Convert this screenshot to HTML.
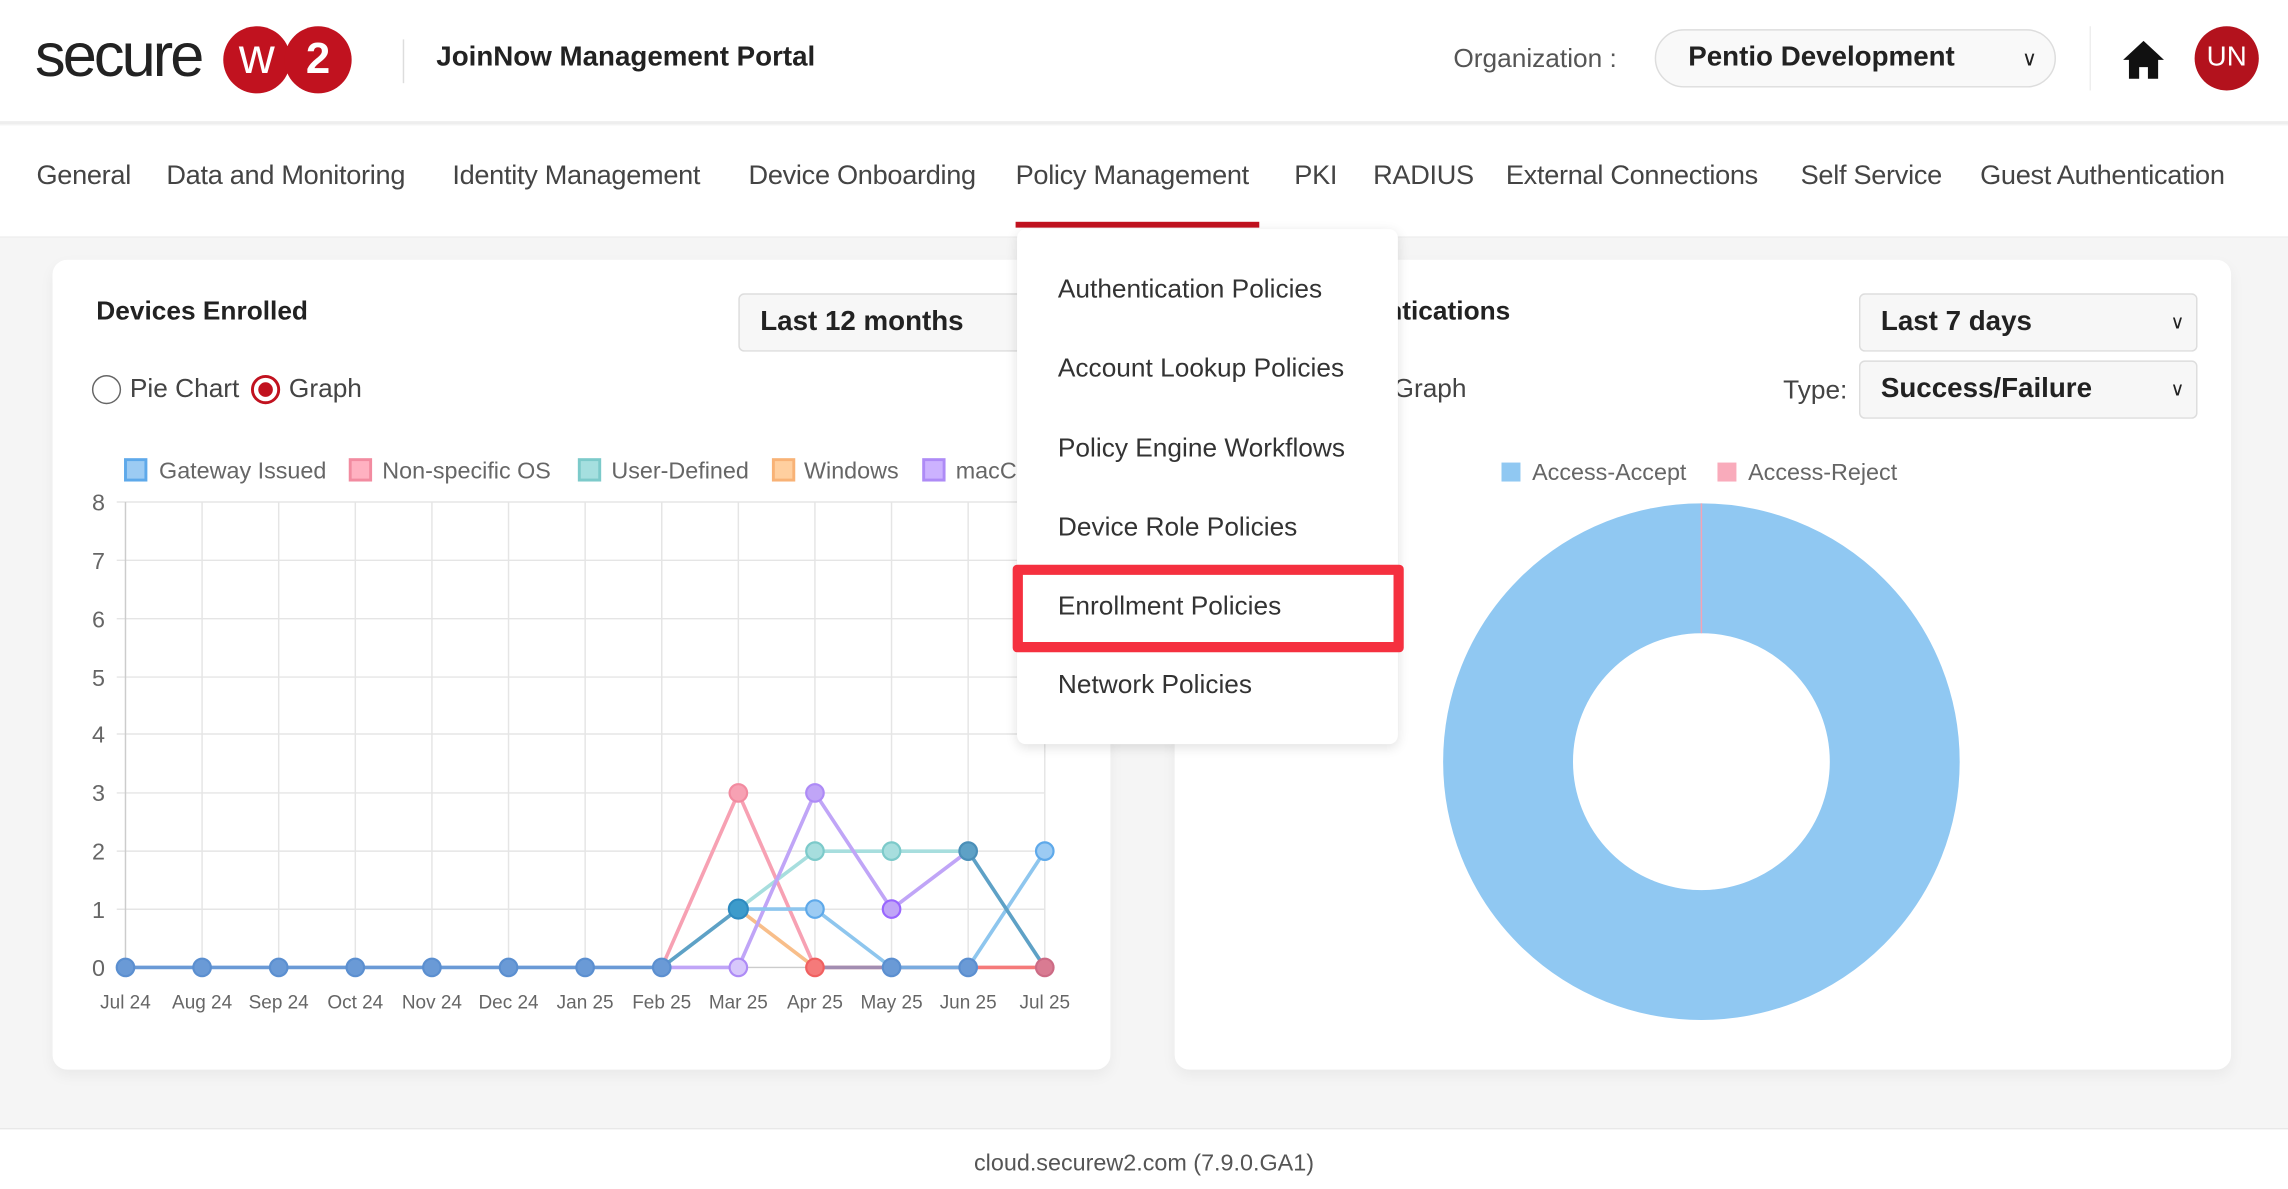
<!DOCTYPE html>
<html><head><meta charset="utf-8"><style>
*{margin:0;padding:0;box-sizing:border-box}
html,body{width:2288px;height:1189px;overflow:hidden;background:#fff}
#root{position:absolute;left:0;top:0;width:1568px;height:815px;transform:scale(1.45918);transform-origin:0 0;font-family:"Liberation Sans",sans-serif;color:#333;background:#f5f5f5}
.abs{position:absolute}
.nav span{position:absolute;top:109px;font-size:18.6px;color:#444;letter-spacing:-0.2px;white-space:nowrap}
.card{position:absolute;background:#fff;border-radius:10px;box-shadow:0 4px 10px rgba(0,0,0,0.05)}
.sel{position:absolute;background:#f7f7f7;border:1px solid #ddd;border-radius:4px;font-weight:bold;font-size:19px;color:#222;padding-left:14px;line-height:38px}
.menu div{position:absolute;left:28px;font-size:18px;color:#333;white-space:nowrap}
</style></head><body><div id="root">
<!-- header -->
<div class="abs" style="left:0;top:0;width:1568px;height:85px;background:#fff;border-bottom:2px solid #eee"></div>
<div class="abs" style="left:24px;top:14px;font-size:42px;letter-spacing:-2px;color:#222;font-weight:normal">secure</div>
<div class="abs" style="left:153px;top:18px;width:46px;height:46px;border-radius:50%;background:#c1121f;color:#fff;font-size:34px;text-align:center;line-height:42px">w</div>
<div class="abs" style="left:195px;top:18px;width:46px;height:46px;border-radius:50%;background:#c1121f;color:#fff;font-size:30px;text-align:center;line-height:46px;font-weight:bold">2</div>
<div class="abs" style="left:276px;top:27px;width:1px;height:30px;background:#ddd"></div>
<div class="abs" style="left:299px;top:29px;font-size:19px;font-weight:bold;color:#222">JoinNow Management Portal</div>
<div class="abs" style="left:996px;top:30px;font-size:18px;color:#555">Organization :</div>
<div class="abs" style="left:1134px;top:20px;width:275px;height:40px;border:1px solid #ddd;border-radius:20px;background:#f9f9f9;font-size:19px;font-weight:bold;color:#222;line-height:38px;padding-left:22px">Pentio Development<span style="position:absolute;right:12px;top:0;font-weight:normal;font-size:14px">&#8744;</span></div>
<div class="abs" style="left:1432px;top:18px;width:1px;height:44px;background:#eee"></div>
<svg class="abs" style="left:1454px;top:27px" width="30" height="28" viewBox="0 0 30 28"><path d="M15 1 L29 14 L25 14 L25 27 L18 27 L18 19 L12 19 L12 27 L5 27 L5 14 L1 14 Z" fill="#111"/></svg>
<div class="abs" style="left:1504px;top:18px;width:44px;height:44px;border-radius:50%;background:#b3121d;color:#fff;font-size:19px;text-align:center;line-height:44px">UN</div>
<!-- nav -->
<div class="abs" style="left:0;top:86px;width:1568px;height:77px;background:#fff;border-bottom:1px solid #eee"></div>
<div class="nav">
<span style="left:25px">General</span><span style="left:114px">Data and Monitoring</span><span style="left:310px">Identity Management</span><span style="left:513px">Device Onboarding</span><span style="left:696px">Policy Management</span><span style="left:887px">PKI</span><span style="left:941px">RADIUS</span><span style="left:1032px">External Connections</span><span style="left:1234px">Self Service</span><span style="left:1357px">Guest Authentication</span>
</div>
<div class="abs" style="left:696px;top:152px;width:167px;height:4px;background:#c1121f"></div>
<!-- cards -->
<div class="card" style="left:36px;top:178px;width:725px;height:555px"></div>
<div class="card" style="left:805px;top:178px;width:724px;height:555px"></div>
<div class="abs" style="left:66px;top:203px;font-size:18px;font-weight:bold;color:#222">Devices Enrolled</div>
<div class="sel" style="left:506px;top:201px;width:220px;height:40px">Last 12 months</div>
<div class="abs" style="left:63px;top:257px;width:20px;height:20px;border:1.5px solid #666;border-radius:50%"></div>
<div class="abs" style="left:89px;top:256px;font-size:18px;color:#444">Pie Chart</div>
<div class="abs" style="left:172px;top:257px;width:20px;height:20px;border:2px solid #c1121f;border-radius:50%"><div style="margin:3px;width:10px;height:10px;border-radius:50%;background:#c1121f"></div></div>
<div class="abs" style="left:198px;top:256px;font-size:18px;color:#444">Graph</div>
<div class="abs" style="left:950px;top:203px;font-size:18px;font-weight:bold;color:#222">nticatio<span>ns</span></div>
<div class="abs" style="left:955px;top:256px;font-size:18px;color:#444">Graph</div>
<div class="abs" style="left:1222px;top:257px;font-size:18px;color:#444">Type:</div>
<div class="sel" style="left:1274px;top:201px;width:232px;height:40px">Last 7 days<span style="position:absolute;right:8px;font-weight:normal;font-size:13px">&#8744;</span></div>
<div class="sel" style="left:1274px;top:247px;width:232px;height:40px">Success/Failure<span style="position:absolute;right:8px;font-weight:normal;font-size:13px">&#8744;</span></div>
<!-- line chart -->
<svg class="abs" style="left:0;top:0" width="1568" height="815" font-family="Liberation Sans" font-size="15" fill="#666">
<g font-size="16">
<rect x="86" y="315" width="14" height="14" fill="#9ccbf3" stroke="#5ea9ea" stroke-width="2"/><text x="109" y="328">Gateway Issued</text>
<rect x="240" y="315" width="14" height="14" fill="#ffb1c1" stroke="#f28ba0" stroke-width="2"/><text x="262" y="328">Non-specific OS</text>
<rect x="397" y="315" width="14" height="14" fill="#a5dfdf" stroke="#7ccaca" stroke-width="2"/><text x="419" y="328">User-Defined</text>
<rect x="530" y="315" width="14" height="14" fill="#ffcf9f" stroke="#f8b276" stroke-width="2"/><text x="551" y="328">Windows</text>
<rect x="633" y="315" width="14" height="14" fill="#ccb2ff" stroke="#ae8bf6" stroke-width="2"/><text x="655" y="328">macC</text>
</g>
<g stroke="#e5e5e5" stroke-width="1">
<line x1="80" y1="344" x2="716" y2="344"/><line x1="80" y1="384" x2="716" y2="384"/><line x1="80" y1="424" x2="716" y2="424"/><line x1="80" y1="464" x2="716" y2="464"/><line x1="80" y1="503" x2="716" y2="503"/><line x1="80" y1="543.4" x2="716" y2="543.4"/><line x1="80" y1="583.3" x2="716" y2="583.3"/><line x1="80" y1="623.1" x2="716" y2="623.1"/><line x1="80" y1="663" x2="716" y2="663" stroke="#ccc"/>
<line x1="86" y1="344" x2="86" y2="669" stroke="#ccc"/><line x1="138.5" y1="344" x2="138.5" y2="669"/><line x1="191" y1="344" x2="191" y2="669"/><line x1="243.5" y1="344" x2="243.5" y2="669"/><line x1="296" y1="344" x2="296" y2="669"/><line x1="348.5" y1="344" x2="348.5" y2="669"/><line x1="401" y1="344" x2="401" y2="669"/><line x1="453.5" y1="344" x2="453.5" y2="669"/><line x1="506" y1="344" x2="506" y2="669"/><line x1="558.5" y1="344" x2="558.5" y2="669"/><line x1="611" y1="344" x2="611" y2="669"/><line x1="663.5" y1="344" x2="663.5" y2="669"/><line x1="716" y1="344" x2="716" y2="669"/>
</g>
<g text-anchor="end" font-size="16"><text x="72" y="350">8</text><text x="72" y="390">7</text><text x="72" y="430">6</text><text x="72" y="470">5</text><text x="72" y="509">4</text><text x="72" y="549">3</text><text x="72" y="589">2</text><text x="72" y="629">1</text><text x="72" y="669">0</text></g>
<g text-anchor="middle" font-size="13"><text x="86" y="691">Jul 24</text><text x="138.5" y="691">Aug 24</text><text x="191" y="691">Sep 24</text><text x="243.5" y="691">Oct 24</text><text x="296" y="691">Nov 24</text><text x="348.5" y="691">Dec 24</text><text x="401" y="691">Jan 25</text><text x="453.5" y="691">Feb 25</text><text x="506" y="691">Mar 25</text><text x="558.5" y="691">Apr 25</text><text x="611" y="691">May 25</text><text x="663.5" y="691">Jun 25</text><text x="716" y="691">Jul 25</text></g>
<g fill="none" stroke-width="2.5">
<polyline stroke="#f7a1b3" points="453.5,663 506,543.4 558.5,663"/>
<polyline stroke="#f57a7a" points="558.5,663 716,663"/>
<polyline stroke="#f8be8a" points="506,623 558.5,663"/>
<polyline stroke="#a7dede" points="453.5,663 506,623 558.5,583.3 611,583.3 663.5,583.3"/>
<polyline stroke="#c0a5f7" points="453.5,663 506,663 558.5,543.4 611,623 663.5,583.3"/>
<polyline stroke="#8ec6ee" points="506,623 558.5,623 611,663 663.5,663 716,583.3"/>
<polyline stroke="#5ea1c6" points="453.5,663 506,623"/>
<polyline stroke="#5ea1c6" points="663.5,583.3 716,663"/>
<polyline stroke="#6a9ad6" points="86,663 453.5,663"/>
<polyline stroke="#6a9ad6" points="558.5,663 663.5,663" stroke-opacity="0.6"/>
</g>
<g fill="#6a9ad6" stroke="#5b8fd0" stroke-width="1.5">
<circle cx="86" cy="663" r="6"/><circle cx="138.5" cy="663" r="6"/><circle cx="191" cy="663" r="6"/><circle cx="243.5" cy="663" r="6"/><circle cx="296" cy="663" r="6"/><circle cx="348.5" cy="663" r="6"/><circle cx="401" cy="663" r="6"/><circle cx="453.5" cy="663" r="6"/><circle cx="611" cy="663" r="6"/><circle cx="663.5" cy="663" r="6"/>
</g>
<circle cx="506" cy="543.4" r="6" fill="#f7a1b3" stroke="#f28ba0" stroke-width="1.5"/>
<circle cx="558.5" cy="543.4" r="6" fill="#c0a5f7" stroke="#ae8bf6" stroke-width="1.5"/>
<circle cx="506" cy="663" r="6" fill="#d7c7fb" stroke="#ae8bf6" stroke-width="1.5"/>
<circle cx="558.5" cy="583.3" r="6" fill="#a7dede" stroke="#7ccaca" stroke-width="1.5"/>
<circle cx="611" cy="583.3" r="6" fill="#a7dede" stroke="#7ccaca" stroke-width="1.5"/>
<circle cx="663.5" cy="583.3" r="6" fill="#5ea1c6" stroke="#4b8fb8" stroke-width="1.5"/>
<circle cx="716" cy="583.3" r="6" fill="#9ccbf3" stroke="#5ea9ea" stroke-width="1.5"/>
<circle cx="506" cy="623" r="6.5" fill="#3d9bcb" stroke="#2e8bc0" stroke-width="1.5"/>
<circle cx="558.5" cy="623" r="6" fill="#9ccbf3" stroke="#5ea9ea" stroke-width="1.5"/>
<circle cx="611" cy="623" r="6" fill="#c0a5f7" stroke="#9966ff" stroke-width="1.5"/>
<circle cx="558.5" cy="663" r="6" fill="#f57a7a" stroke="#f06060" stroke-width="1.5"/>
<circle cx="716" cy="663" r="6" fill="#d97b92" stroke="#cc6b85" stroke-width="1.5"/>
<!-- donut -->
<g font-size="16"><rect x="1029" y="317" width="13" height="13" fill="#90c8f2"/><text x="1050" y="329">Access-Accept</text>
<rect x="1177" y="317" width="13" height="13" fill="#f9abbb"/><text x="1198" y="329">Access-Reject</text></g>
<circle cx="1166" cy="522" r="132.5" fill="none" stroke="#90c8f2" stroke-width="89"/>
<line x1="1166" y1="345" x2="1166" y2="434" stroke="#f5a3b3" stroke-width="1"/>
</svg>
<!-- dropdown menu -->
<div class="abs menu" style="left:697px;top:157px;width:261px;height:353px;background:#fff;border-radius:6px;box-shadow:0 2px 8px rgba(0,0,0,0.12)">
<div style="top:31px">Authentication Policies</div>
<div style="top:85px">Account Lookup Policies</div>
<div style="top:140px">Policy Engine Workflows</div>
<div style="top:194px">Device Role Policies</div>
<div style="top:248px">Enrollment Policies</div>
<div style="top:302px">Network Policies</div>
</div>
<div class="abs" style="left:694px;top:387px;width:268px;height:60px;border:7px solid #f5303f;border-radius:3px"></div>
<!-- footer -->
<div class="abs" style="left:0;top:773px;width:1568px;height:42px;background:#fff;border-top:1px solid #e8e8e8"></div>
<div class="abs" style="left:0;top:789px;width:1568px;text-align:center;font-size:16px;color:#555">cloud.securew2.com (7.9.0.GA1)</div>
</div></body></html>
